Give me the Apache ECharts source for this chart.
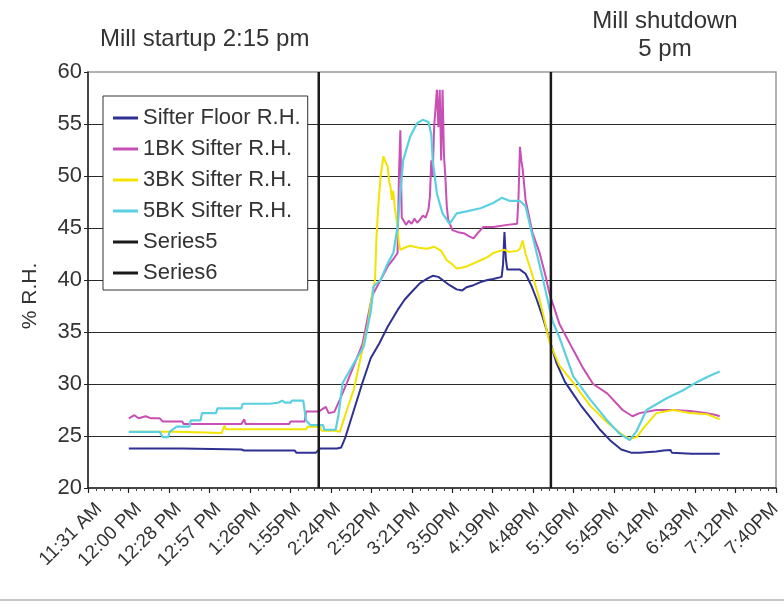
<!DOCTYPE html>
<html><head><meta charset="utf-8">
<script src="https://cdn.jsdelivr.net/npm/echarts@6/dist/echarts.min.js"></script>
<style>html,body{margin:0;padding:0;background:#fff}#c{width:784px;height:607px}</style>
</head><body><div id="c"></div>
<script>
// ---- DATA (times in minutes after midnight) ----
const xTickLabels = ['11:31 AM','12:00 PM','12:28 PM','12:57 PM','1:26PM','1:55PM','2:24PM','2:52PM','3:21PM','3:50PM','4:19PM','4:48PM','5:16PM','5:45PM','6:14PM','6:43PM','7:12PM','7:40PM'];
const axisStart = 691;   // 11:31 AM
const axisEnd = 1180;    // 7:40 PM
const startupTime = 855;  // 2:15 pm
const shutdownTime = 1020; // 5 pm

const floorT = [720,740,758,759,800,802,838,839,853,856,868,871,874,880,886,892,898,904,911,916,920,927,933,936,940,943,948,953,957,960,965,970,975,979,985,986,987,988,989,995,998,1002,1006,1010,1014,1019,1024,1030,1036,1041,1048,1055,1062,1070,1077,1083,1095,1100,1105,1106,1120,1140];
const floorV = [23.8,23.8,23.8,23.7,23.7,23.6,23.6,23.4,23.4,23.8,23.8,23.9,24.9,27.5,30.1,32.5,33.9,35.5,37.1,38.1,38.7,39.7,40.2,40.4,40.3,40.0,39.5,39.1,39.0,39.3,39.5,39.8,40.0,40.1,40.3,41.5,44.6,42.0,41.0,41.0,41.0,40.6,39.5,38.1,36.5,34.3,32.0,30.2,29.0,28.0,26.8,25.6,24.6,23.7,23.4,23.4,23.5,23.6,23.65,23.4,23.3,23.3];

const bk1T = [720,724,727,732,736,742,744,758,759,800,802,803,834,835,845,846,855,856,860,862,866,870,875,880,886,893,899,904,908,911,912,913,914,915,917,919,921,923,925,927,929,931,933,934,935,936,937,939,940,941,942,943,944,945,946,947,950,954,958,962,965,968,972,979,989,996,997,998,999,1000,1002,1007,1012,1016,1019,1026,1035,1043,1050,1060,1071,1078,1083,1095,1107,1119,1131,1138,1140];
const bk1V = [26.7,27.0,26.7,26.9,26.7,26.7,26.4,26.4,26.15,26.15,26.6,26.15,26.15,26.4,26.4,27.35,27.35,27.2,27.8,27.2,27.3,28.5,30.1,31.8,33.8,38.5,40.0,41.3,42.0,42.6,50.0,54.4,46.0,45.8,45.3,45.7,45.4,45.9,45.5,45.8,46.2,46.0,46.8,48.0,51.5,50.0,54.7,58.3,54.7,58.3,51.5,58.3,52.0,49.9,47.1,45.8,44.8,44.6,44.5,44.2,44.0,44.5,45.1,45.1,45.3,45.4,48.0,52.8,51.5,50.6,47.7,44.5,42.6,40.5,38.7,35.8,33.5,31.5,30.0,29.1,27.5,26.9,27.2,27.5,27.5,27.4,27.2,27.0,26.9];

const bk3T = [720,755,756,786,787,788,789,846,847,856,857,867,870,875,880,886,890,893,895,896,897,898,899,901,902,904,905,906,907,908,909,911,912,913,916,920,926,932,937,942,946,950,953,957,960,965,970,975,979,984,987,990,996,998,1000,1002,1005,1009,1012,1015,1019,1026,1036,1048,1060,1071,1076,1081,1086,1095,1107,1119,1131,1140];
const bk3V = [25.4,25.4,25.3,25.3,25.65,26.0,25.65,25.65,25.9,25.9,25.5,25.5,25.4,27.5,29.5,33.3,35.8,38.7,40.0,44.0,46.4,48.3,50.0,51.9,51.5,50.9,49.5,49.0,47.7,48.6,47.0,45.1,43.5,42.9,43.1,43.3,43.1,43.0,43.2,42.8,41.9,41.5,41.1,41.2,41.3,41.6,41.9,42.2,42.6,42.8,42.9,42.7,42.8,43.0,43.8,42.5,41.3,39.5,38.1,36.4,34.0,31.8,30.1,27.9,26.3,25.1,24.7,24.9,25.8,27.2,27.5,27.2,27.1,26.6];

const bk5T = [720,742,744,748,749,754,763,764,771,772,782,783,800,801,820,826,829,831,835,836,844,846,849,858,859,867,869,872,880,887,892,894,899,904,908,911,915,920,925,929,933,935,936,939,943,948,953,960,970,979,985,991,998,1002,1007,1014,1021,1026,1036,1048,1060,1069,1076,1081,1088,1102,1114,1124,1133,1140];
const bk5V = [25.4,25.4,24.9,24.9,25.4,25.9,25.9,26.5,26.5,27.2,27.2,27.65,27.65,28.1,28.1,28.2,28.4,28.2,28.2,28.4,28.4,26.5,26.05,26.05,25.6,25.6,27.0,30.1,32.0,33.6,37.0,39.4,40.0,41.6,42.6,45.1,51.5,53.8,55.1,55.4,55.2,54.0,51.5,48.3,46.4,45.4,46.4,46.6,46.9,47.4,47.9,47.6,47.6,47.1,44.2,40.3,36.1,34.5,30.7,28.5,26.5,25.2,24.6,25.5,27.5,28.6,29.4,30.2,30.8,31.2];

// ---- BUILD ----
const FONT = "'Liberation Sans', Arial, sans-serif";
const TXT = '#333';
const zip = (t, v) => t.map((x, i) => [x, v[i]]);
const step = (axisEnd - axisStart) / (xTickLabels.length - 1);
const majorTicks = xTickLabels.map((_, i) => axisStart + i * step);
const minorTicks = [];
for (let i = 0; i < majorTicks.length - 1; i++) for (let k = 1; k < 5; k++) minorTicks.push(majorTicks[i] + k * step / 5);

const G = {left: 88, right: 8, top: 72, bottom: 119};
const LBL = 11; // Excel draws the rotated labels a little right of their tick

const chart = echarts.init(document.getElementById('c'), null, {renderer: 'canvas'});
const lineS = (name, data, color, w) => ({
  name, type: 'line', data, symbol: 'none', silent: true, animation: false,
  lineStyle: {color, width: w}, itemStyle: {color}
});
chart.setOption({
  animation: false,
  backgroundColor: '#fff',
  textStyle: {fontFamily: FONT},
  grid: [
    Object.assign({show: true, borderColor: '#9a9a9a', borderWidth: 1.5}, G),
    {left: G.left + LBL, right: G.right - LBL, top: G.top, bottom: G.bottom}
  ],
  xAxis: [{
    type: 'value', min: axisStart, max: axisEnd, gridIndex: 0,
    axisLine: {lineStyle: {color: '#222', width: 1.5}},
    axisTick: {customValues: majorTicks, length: 5, lineStyle: {color: '#222', width: 1.2}},
    axisLabel: {show: false},
    splitLine: {show: false}
  }, {
    type: 'value', min: axisStart, max: axisEnd, gridIndex: 0, position: 'bottom',
    axisLine: {show: false},
    axisTick: {customValues: minorTicks, length: 3, lineStyle: {color: '#444', width: 1}},
    axisLabel: {show: false}, splitLine: {show: false}
  }, {
    type: 'value', min: axisStart, max: axisEnd, gridIndex: 1, position: 'bottom',
    axisLine: {show: false}, axisTick: {show: false}, splitLine: {show: false},
    axisLabel: {
      customValues: majorTicks, rotate: 45, margin: 18, fontSize: 19, color: TXT, fontFamily: FONT,
      formatter: v => xTickLabels[Math.round((v - axisStart) / step)] || ''
    }
  }],
  yAxis: [{
    type: 'value', min: 20, max: 60, interval: 5, gridIndex: 0,
    axisLine: {show: true, lineStyle: {color: '#222', width: 1.5}},
    axisTick: {show: true, length: 4, lineStyle: {color: '#222'}},
    axisLabel: {fontSize: 22, color: TXT, margin: 6, fontFamily: FONT},
    splitLine: {show: true, showMinLine: false, showMaxLine: false, lineStyle: {color: '#2a2a2a', width: 1.2}}
  }, {
    type: 'value', min: 20, max: 60, gridIndex: 1, show: false
  }],
  legend: {
    orient: 'vertical', left: 103, top: 96,
    padding: [10, 7, 5, 10], itemGap: 7, itemWidth: 25, itemHeight: 3, icon: 'rect',
    backgroundColor: '#fff', borderColor: '#333', borderWidth: 1,
    textStyle: {fontSize: 22, lineHeight: 24, color: TXT, fontFamily: FONT},
    data: ['Sifter Floor R.H.','1BK Sifter R.H.','3BK Sifter R.H.','5BK Sifter R.H.','Series5','Series6']
  },
  graphic: [
    {type: 'text', left: 100, top: 27, style: {text: 'Mill startup 2:15 pm', fontSize: 24, fill: TXT, fontFamily: FONT}},
    {type: 'text', x: 665, y: 7, style: {text: 'Mill shutdown\n5 pm', fontSize: 24, lineHeight: 28, fill: TXT, align: 'center', fontFamily: FONT}},
    {type: 'text', x: 30, y: 296, rotation: Math.PI / 2, style: {text: '% R.H.', fontSize: 21, fill: TXT, align: 'center', verticalAlign: 'middle', fontFamily: FONT}},
    {type: 'line', shape: {x1: 0, y1: 600, x2: 784, y2: 600}, style: {stroke: '#c8c8c8', lineWidth: 2}}
  ],
  series: [
    lineS('Sifter Floor R.H.', zip(floorT, floorV), '#2e3192', 2),
    lineS('1BK Sifter R.H.', zip(bk1T, bk1V), '#c84fb4', 2),
    lineS('3BK Sifter R.H.', zip(bk3T, bk3V), '#f2e300', 2),
    lineS('5BK Sifter R.H.', zip(bk5T, bk5V), '#5ccfe0', 2.2),
    lineS('Series5', [[startupTime, 20], [startupTime, 60]], '#1a1a1a', 2.5),
    lineS('Series6', [[shutdownTime, 20], [shutdownTime, 60]], '#1a1a1a', 2.5)
  ]
});
</script></body></html>
